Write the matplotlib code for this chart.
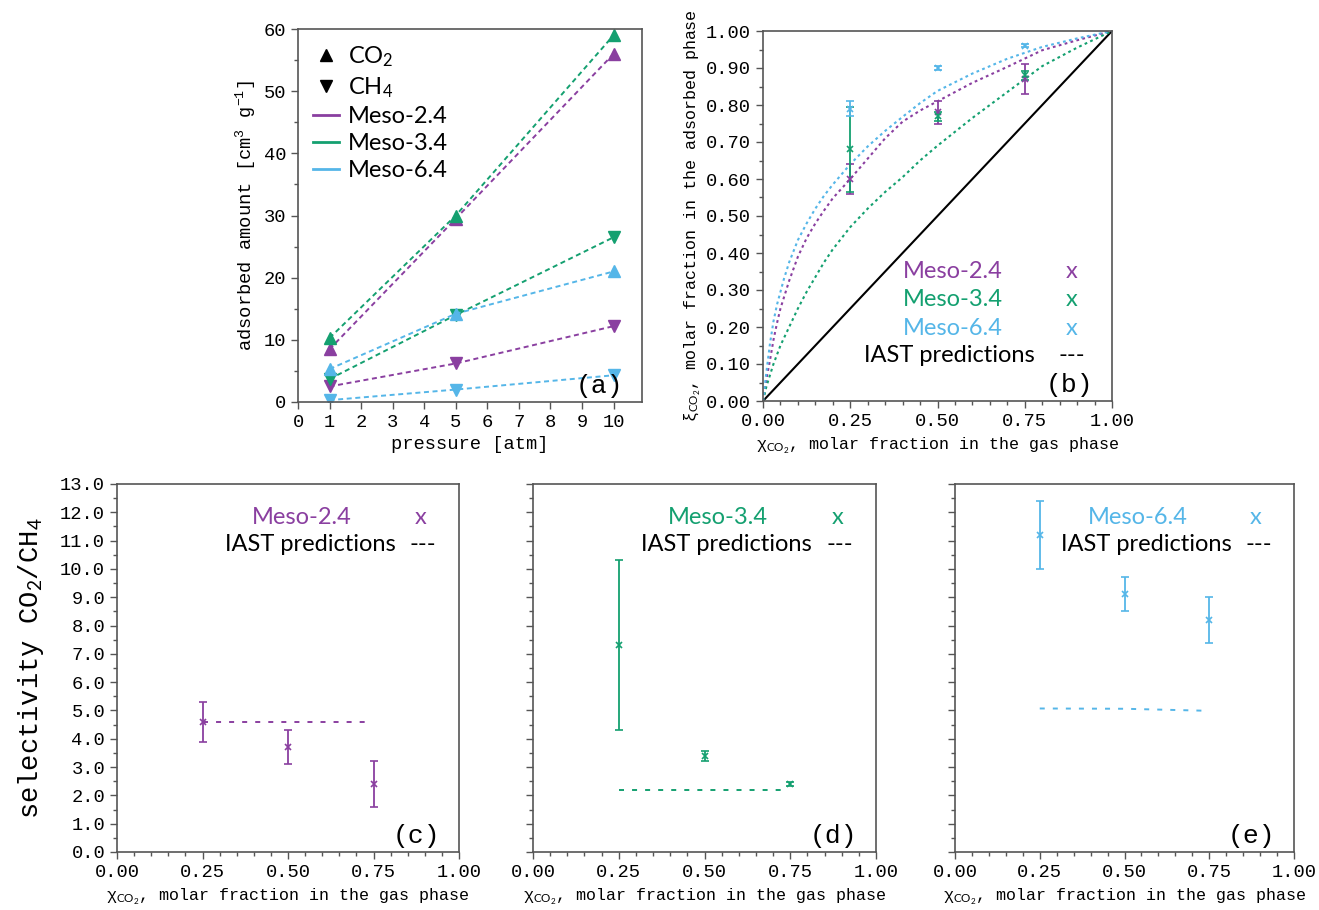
import matplotlib
matplotlib.use("Agg")
import matplotlib.pyplot as plt
from matplotlib.lines import Line2D
from matplotlib.ticker import MultipleLocator, FormatStrFormatter

plt.rcParams['font.family'] = ['Liberation Mono', 'DejaVu Sans']
plt.rcParams['mathtext.fontset'] = 'custom'
plt.rcParams['mathtext.rm'] = 'Liberation Mono'
plt.rcParams['mathtext.it'] = 'Liberation Mono:italic'
plt.rcParams['mathtext.sf'] = 'Lato'
plt.rcParams['lines.scale_dashes'] = False

PURPLE = '#8a3fa0'
GREEN = '#14a070'
BLUE = '#55b6e8'
SPINE = '#555555'
SANS = 'Lato'

samples = ['Meso-2.4', 'Meso-3.4', 'Meso-6.4']
colors = [PURPLE, GREEN, BLUE]

# (a) single-gas isotherms
pressure = [1, 5, 10]
co2_amount = {
    'Meso-2.4': [8.5, 29.5, 56.0],
    'Meso-3.4': [10.3, 30.0, 59.0],
    'Meso-6.4': [5.3, 14.2, 21.0],
}
ch4_amount = {
    'Meso-2.4': [2.5, 6.2, 12.2],
    'Meso-3.4': [3.7, 14.0, 26.5],
    'Meso-6.4': [0.3, 2.0, 4.3],
}

# (b) molar fraction in the adsorbed phase, experiments
x_gas = [0.25, 0.50, 0.75]
xi_exp = {
    'Meso-2.4': [0.60, 0.78, 0.87],
    'Meso-3.4': [0.68, 0.77, 0.88],
    'Meso-6.4': [0.79, 0.90, 0.96],
}
xi_err = {
    'Meso-2.4': [0.04, 0.03, 0.04],
    'Meso-3.4': [0.115, 0.012, 0.012],
    'Meso-6.4': [0.02, 0.006, 0.004],
}

# (b) IAST predictions
iast_x = {
    'Meso-2.4': [0, 0.005, 0.01, 0.02, 0.03, 0.04, 0.05, 0.06, 0.075, 0.1,
                 0.125, 0.15, 0.175, 0.2, 0.25, 0.3, 0.35, 0.4, 0.45, 0.5,
                 0.6, 0.7, 0.8, 0.9, 1.0],
    'Meso-3.4': [0, 0.01, 0.02, 0.03, 0.05, 0.075, 0.1, 0.125, 0.15, 0.175,
                 0.2, 0.25, 0.3, 0.35, 0.4, 0.45, 0.5, 0.6, 0.7, 0.8, 0.9, 1.0],
    'Meso-6.4': [0, 0.005, 0.01, 0.02, 0.03, 0.04, 0.05, 0.06, 0.075, 0.1,
                 0.125, 0.15, 0.175, 0.2, 0.25, 0.3, 0.35, 0.4, 0.45, 0.5,
                 0.6, 0.7, 0.8, 0.9, 1.0],
}
iast_y = {
    'Meso-2.4': [0, 0.03, 0.06, 0.11, 0.165, 0.21, 0.25, 0.28, 0.325, 0.39,
                 0.44, 0.48, 0.515, 0.548, 0.60, 0.655, 0.71, 0.755, 0.785, 0.81,
                 0.86, 0.903, 0.948, 0.975, 1.0],
    'Meso-3.4': [0, 0.04, 0.07, 0.10, 0.15, 0.20, 0.25, 0.295, 0.335, 0.375,
                 0.41, 0.47, 0.52, 0.565, 0.605, 0.65, 0.69, 0.765, 0.835,
                 0.905, 0.955, 1.0],
    'Meso-6.4': [0, 0.04, 0.08, 0.155, 0.215, 0.26, 0.295, 0.33, 0.375, 0.435,
                 0.48, 0.52, 0.555, 0.585, 0.64, 0.688, 0.73, 0.768, 0.805, 0.838,
                 0.885, 0.925, 0.957, 0.98, 1.0],
}

# (c)-(e) selectivity CO2/CH4
sel_exp = {
    'Meso-2.4': [4.6, 3.7, 2.4],
    'Meso-3.4': [7.3, 3.4, 2.4],
    'Meso-6.4': [11.2, 9.1, 8.2],
}
sel_err = {
    'Meso-2.4': [0.7, 0.6, 0.8],
    'Meso-3.4': [3.0, 0.18, 0.08],
    'Meso-6.4': [1.2, 0.6, 0.8],
}
sel_iast_x = [0.25, 0.50, 0.74]
sel_iast = {
    'Meso-2.4': [4.6, 4.6, 4.6],
    'Meso-3.4': [2.2, 2.2, 2.2],
    'Meso-6.4': [5.07, 5.06, 4.99],
}

W, H = 1319, 910
fig = plt.figure(figsize=(W / 100, H / 100), dpi=100)


def box(l, t, r, b):
    return [l / W, 1 - b / H, (r - l) / W, (b - t) / H]


def style(ax):
    for s in ax.spines.values():
        s.set_color(SPINE)
        s.set_linewidth(1.2)
    ax.tick_params(which='both', direction='out', top=False, right=False,
                   color=SPINE, width=1.0, labelsize=13.5)
    ax.tick_params(which='major', length=5)
    ax.tick_params(which='minor', length=3)


def panel_label(ax, s):
    ax.text(0.945, 0.012, s, transform=ax.transAxes, ha='right', va='bottom',
            fontsize=19)


xlab = "χ$_{\\mathsf{CO_2}}$, molar fraction in the gas phase"

# ---------- (a)
ax = fig.add_axes(box(298, 29, 642, 402))
style(ax)
for name, c in zip(samples, colors):
    ax.plot(pressure, co2_amount[name], color=c, lw=1.4, dashes=(3.6, 2.6))
    ax.plot(pressure, ch4_amount[name], color=c, lw=1.4, dashes=(3.6, 2.6))
    ax.plot(pressure, co2_amount[name], ls='none', marker='^', ms=8, color=c)
    ax.plot(pressure, ch4_amount[name], ls='none', marker='v', ms=8, color=c)
ax.set_xlim(0, 10.9)
ax.set_ylim(0, 60)
ax.xaxis.set_major_locator(MultipleLocator(1))
ax.yaxis.set_major_locator(MultipleLocator(10))
ax.yaxis.set_minor_locator(MultipleLocator(5))
ax.set_xlabel('pressure [atm]', fontsize=13.5, labelpad=4)
ax.set_ylabel('adsorbed amount [cm$^{\\mathrm{3}}$ g$^{\\mathrm{-1}}$]',
              fontsize=13.5, labelpad=4)
handles = [Line2D([], [], ls='none', marker='^', ms=9, color='k'),
           Line2D([], [], ls='none', marker='v', ms=9, color='k')]
handles += [Line2D([], [], color=c, lw=2) for c in colors]
labels = ['CO$_{\\mathsf{2}}$', 'CH$_{\\mathsf{4}}$'] + samples
leg = ax.legend(handles, labels, loc='upper left', frameon=False,
                prop={'family': SANS, 'size': 17}, labelspacing=0.26,
                handlelength=1.1, handletextpad=0.4, borderaxespad=0.0,
                bbox_to_anchor=(0.016, 0.985))
panel_label(ax, '(a)')

# ---------- (b)
ax = fig.add_axes(box(763, 31, 1112, 401))
style(ax)
ax.plot([0, 1], [0, 1], color='k', lw=1.5)
for name, c in zip(samples, colors):
    ax.plot(iast_x[name], iast_y[name], color=c, lw=1.5, dashes=(2.0, 2.4))
for name, c in zip(samples, colors):
    ax.errorbar(x_gas, xi_exp[name], yerr=xi_err[name], fmt='x', color=c,
                ms=5, mew=1.2, elinewidth=1.3, capsize=3, capthick=1.3)
ax.set_xlim(0, 1)
ax.set_ylim(0, 1)
ax.xaxis.set_major_locator(MultipleLocator(0.25))
ax.xaxis.set_minor_locator(MultipleLocator(0.05))
ax.yaxis.set_major_locator(MultipleLocator(0.1))
ax.yaxis.set_minor_locator(MultipleLocator(0.05))
ax.xaxis.set_major_formatter(FormatStrFormatter('%.2f'))
ax.yaxis.set_major_formatter(FormatStrFormatter('%.2f'))
ax.set_xlabel(xlab, fontsize=12, labelpad=4)
ax.set_ylabel("ξ$_{\\mathsf{CO_2}}$, molar fraction in the adsorbed phase",
              fontsize=12, labelpad=2)
for i, (name, c) in enumerate(zip(samples, colors)):
    yy = 0.349 - 0.076 * i
    ax.text(0.545, yy, name, color=c, family=SANS, fontsize=17,
            transform=ax.transAxes, ha='center', va='center')
    ax.text(0.885, yy, 'x', color=c, family=SANS, fontsize=17,
            transform=ax.transAxes, ha='center', va='center')
ax.text(0.533, 0.122, 'IAST predictions', color='k', family=SANS, fontsize=17,
        transform=ax.transAxes, ha='center', va='center')
ax.text(0.885, 0.122, '---', color='k', family=SANS, fontsize=17,
        transform=ax.transAxes, ha='center', va='center')
panel_label(ax, '(b)')

# ---------- (c)-(e)
boxes = [box(117, 484, 459, 852), box(533, 484, 876, 852), box(955, 484, 1294, 852)]
tags = ['(c)', '(d)', '(e)']
for k, (name, c) in enumerate(zip(samples, colors)):
    ax = fig.add_axes(boxes[k])
    style(ax)
    ax.plot(sel_iast_x, sel_iast[name], color=c, lw=1.4, dashes=(3.6, 5.8))
    ax.errorbar(x_gas, sel_exp[name], yerr=sel_err[name], fmt='x', color=c,
                ms=5, mew=1.2, elinewidth=1.3, capsize=3, capthick=1.3)
    ax.set_xlim(0, 1)
    ax.set_ylim(0, 13)
    ax.xaxis.set_major_locator(MultipleLocator(0.25))
    ax.xaxis.set_minor_locator(MultipleLocator(0.05))
    ax.yaxis.set_major_locator(MultipleLocator(1))
    ax.yaxis.set_minor_locator(MultipleLocator(0.5))
    ax.xaxis.set_major_formatter(FormatStrFormatter('%.2f'))
    ax.yaxis.set_major_formatter(FormatStrFormatter('%.1f'))
    if k == 0:
        ax.set_ylabel('selectivity CO$_{\\mathsf{2}}$/CH$_{\\mathsf{4}}$',
                      fontsize=19.5, labelpad=10)
    else:
        ax.tick_params(axis='y', labelleft=False)
    ax.set_xlabel(xlab, fontsize=12, labelpad=4)
    ax.text(0.54, 0.91, name, color=c, family=SANS, fontsize=17,
            transform=ax.transAxes, ha='center', va='center')
    ax.text(0.888, 0.91, 'x', color=c, family=SANS, fontsize=17,
            transform=ax.transAxes, ha='center', va='center')
    ax.text(0.565, 0.835, 'IAST predictions', color='k', family=SANS,
            fontsize=17, transform=ax.transAxes, ha='center', va='center')
    ax.text(0.895, 0.835, '---', color='k', family=SANS, fontsize=17,
            transform=ax.transAxes, ha='center', va='center')
    panel_label(ax, tags[k])

fig.savefig('out.png', dpi=100)
